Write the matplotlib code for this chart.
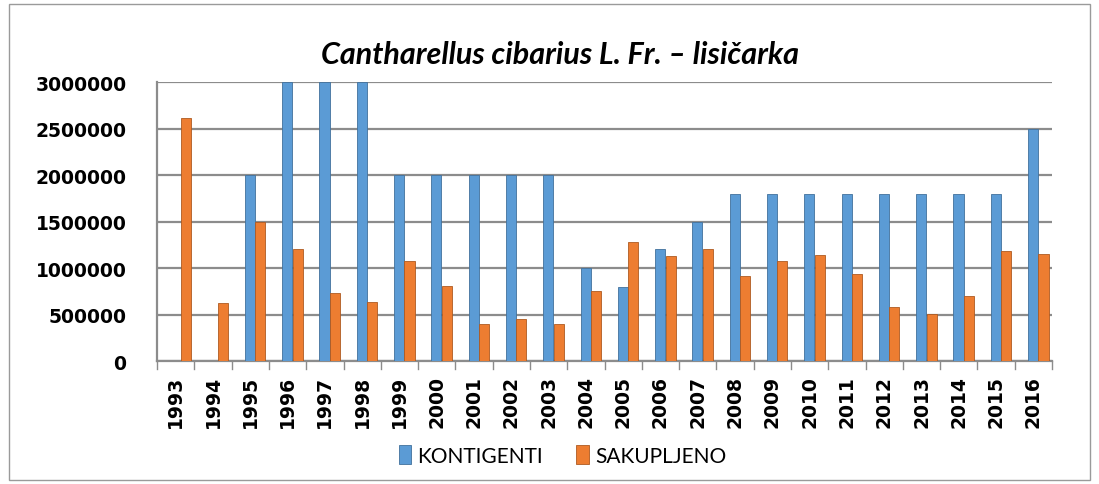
import numpy as np
import matplotlib
matplotlib.use('Agg')
import matplotlib.pyplot as plt
from matplotlib.patches import Rectangle

years = [str(y) for y in range(1993, 2017)]
kontigenti = [0, 0, 2000000, 3000000, 3000000, 3000000, 2000000, 2000000,
              2000000, 2000000, 2000000, 1000000, 800000, 1200000, 1500000,
              1800000, 1800000, 1800000, 1800000, 1800000, 1800000, 1800000,
              1800000, 2500000]
sakupljeno = [2610000, 620000, 1500000, 1200000, 730000, 640000, 1080000,
              810000, 400000, 450000, 400000, 750000, 1280000, 1130000,
              1200000, 910000, 1080000, 1140000, 940000, 580000, 510000,
              700000, 1180000, 1150000]
yticks = [0, 500000, 1000000, 1500000, 2000000, 2500000, 3000000]

BLUE = '#5B9BD5'
ORANGE = '#ED7D31'

fig = plt.figure(figsize=(10.99, 4.85), dpi=100)
fig.patches.append(Rectangle((0.008, 0.008), 0.984, 0.982, transform=fig.transFigure,
                             fill=False, edgecolor='#9a9a9a', linewidth=1))
ax = fig.add_axes([0.1429, 0.2536, 0.8144, 0.575])

x = np.arange(len(years))
w = 0.27
ax.bar(x - 0.01, kontigenti, w, color=BLUE, edgecolor='#41719C', linewidth=0.6,
       label='KONTIGENTI', zorder=3)
ax.bar(x + 0.27, sakupljeno, w, color=ORANGE, edgecolor='#AE5A21', linewidth=0.6,
       label='SAKUPLJENO', zorder=3)

ax.set_xlim(-0.5, len(years) - 0.5)
ax.set_ylim(0, 3000000)
ax.set_yticks(yticks)
ax.set_yticklabels([str(v) for v in yticks], fontsize=13.5, fontweight='heavy')
ax.set_xticks(x)
ax.set_xticklabels(years, rotation=90, fontsize=13.5, fontweight='heavy')
ax.tick_params(axis='x', length=0, pad=10)
ax.tick_params(axis='y', length=0, pad=22)
ax.grid(axis='y', color='#8c8c8c', linewidth=1.6, zorder=0)
for s in ['top', 'right']:
    ax.spines[s].set_visible(False)
ax.spines['left'].set_color('#8c8c8c')
ax.spines['left'].set_linewidth(1.6)
ax.spines['bottom'].set_color('#8c8c8c')
ax.spines['bottom'].set_linewidth(1.6)
# category separators on floor
for b in np.arange(-0.5, len(years), 1.0):
    ax.plot([b, b], [0, -90000], color='#8c8c8c', linewidth=1, clip_on=False)

ax.set_title('Cantharellus cibarius L. Fr. \u2013 lisi\u010darka', fontsize=22,
             fontweight='bold', fontstyle='italic', family='Lato', pad=14, x=0.45)

ax.legend(loc='upper center', bbox_to_anchor=(0.453, -0.235), ncol=2, frameon=False,
          prop={'family': 'Lato', 'size': 15},
          handlelength=0.6, handleheight=1.0, columnspacing=1.6, handletextpad=0.3)

fig.savefig('out.png', dpi=100)
